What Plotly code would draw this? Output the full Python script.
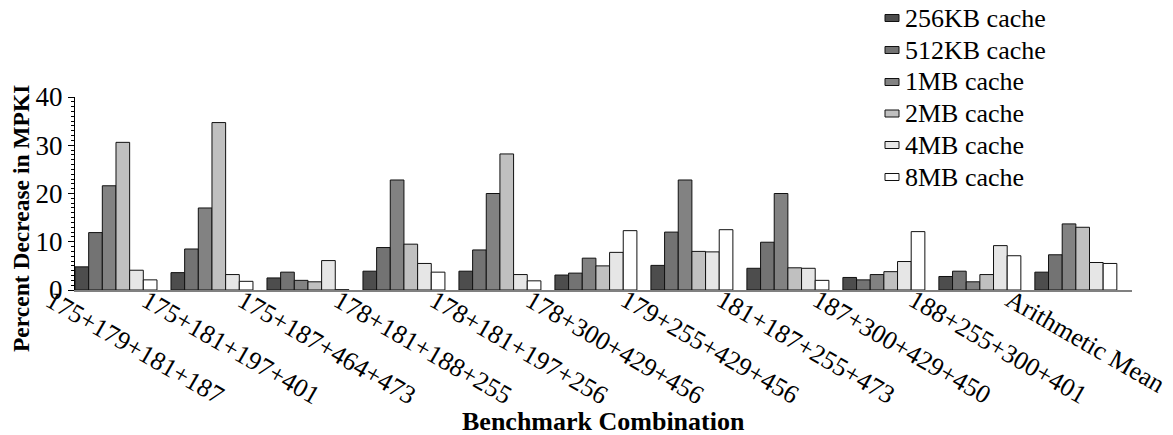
import plotly.graph_objects as go

categories = ["175+179+181+187", "175+181+197+401", "175+187+464+473",
              "178+181+188+255", "178+181+197+256", "178+300+429+456",
              "179+255+429+456", "181+187+255+473", "187+300+429+450",
              "188+255+300+401", "Arithmetic Mean"]

series_names = ["256KB cache", "512KB cache", "1MB cache", "2MB cache", "4MB cache", "8MB cache"]
s256 = [4.8, 3.6, 2.5, 3.9, 3.9, 3.1, 5.1, 4.5, 2.6, 2.8, 3.7]
s512 = [11.9, 8.5, 3.7, 8.8, 8.3, 3.5, 12.0, 9.9, 2.1, 3.9, 7.3]
s1m = [21.6, 17.0, 2.0, 22.8, 20.0, 6.6, 22.8, 20.0, 3.2, 1.7, 13.7]
s2m = [30.6, 34.7, 1.7, 9.5, 28.2, 5.0, 8.0, 4.6, 3.8, 3.2, 13.0]
s4m = [4.1, 3.2, 6.1, 5.5, 3.2, 7.8, 7.9, 4.5, 5.9, 9.2, 5.7]
s8m = [2.1, 1.8, 0.05, 3.7, 1.9, 12.3, 12.5, 2.0, 12.1, 7.1, 5.5]

colors = ["#4d4d4d", "#737373", "#828282", "#c0c0c0", "#e6e6e6", "#ffffff"]
FONT = "Liberation Serif"

# The page body has an 8px default margin; lay the figure out so that the
# final page pixels match the target window.
OFF = 8
PAGE_W, PAGE_H = 1173, 435
FIG_W, FIG_H = PAGE_W - OFF, PAGE_H - OFF

# plot-area geometry in page pixels
L, R, T, B = 75, 1132, 97, 290
W, H = R - L, B - T


def px_x(px):
    return (px - L) / W


def px_y(py):
    return (B - py) / H


fig = go.Figure()
for name, vals, col in zip(series_names, [s256, s512, s1m, s2m, s4m, s8m], colors):
    fig.add_trace(go.Bar(x=categories, y=vals, name=name, showlegend=False,
                         marker=dict(color=col, line=dict(color="#111111", width=1))))

annotations = []
shapes = []
for c in categories:
    annotations.append(dict(text=c, x=c, xref="x", y=0, yref="paper",
                            xanchor="left", yanchor="top", textangle=30,
                            xshift=-78, yshift=8, showarrow=False,
                            font=dict(family=FONT, size=26, color="black")))
annotations.append(dict(text="<b>Benchmark Combination</b>", x=0.5, xref="paper",
                        y=px_y(421), yref="paper", xanchor="center", yanchor="middle",
                        showarrow=False, font=dict(family=FONT, size=26, color="black")))
annotations.append(dict(text="<b>Percent Decrease in MPKI</b>", x=px_x(21), xref="paper",
                        y=px_y(219), yref="paper", xanchor="center", yanchor="middle",
                        textangle=-90, showarrow=False,
                        font=dict(family=FONT, size=23.5, color="black")))

# legend (key boxes + labels)
row_y = [18, 50, 82, 113.5, 145, 177]
for name, col, ry in zip(series_names, colors, row_y):
    shapes.append(dict(type="rect", xref="paper", yref="paper",
                       x0=px_x(885), x1=px_x(899), y0=px_y(ry + 3.5), y1=px_y(ry - 3.5),
                       fillcolor=col, line=dict(color="#111111", width=1)))
    annotations.append(dict(text=name, x=px_x(903), xref="paper", y=px_y(ry), yref="paper",
                            xanchor="left", yanchor="middle", showarrow=False,
                            font=dict(family=FONT, size=26, color="black")))

fig.update_layout(
    width=FIG_W, height=FIG_H,
    margin=dict(l=L - OFF, r=PAGE_W - R, t=T - OFF, b=PAGE_H - B, autoexpand=False),
    paper_bgcolor="white", plot_bgcolor="white",
    barmode="group", bargap=0.146, bargroupgap=0,
    font=dict(family=FONT, size=26, color="black"),
    showlegend=False,
    annotations=annotations,
    shapes=shapes,
    xaxis=dict(type="category", range=[-0.427, 10.585], showticklabels=False,
               ticks="", showgrid=False, zeroline=False,
               showline=True, linecolor="#808080", linewidth=2),
    yaxis=dict(range=[0, 40], tickvals=[0, 10, 20, 30, 40], ticks="outside",
               ticklen=6, tickcolor="black", showgrid=False, zeroline=False,
               showline=True, linecolor="black", linewidth=1,
               tickfont=dict(family=FONT, size=27, color="black"),
               minor=dict(dtick=1, ticks="outside", ticklen=3, tickcolor="black")),
)

fig.write_html("out.html")
